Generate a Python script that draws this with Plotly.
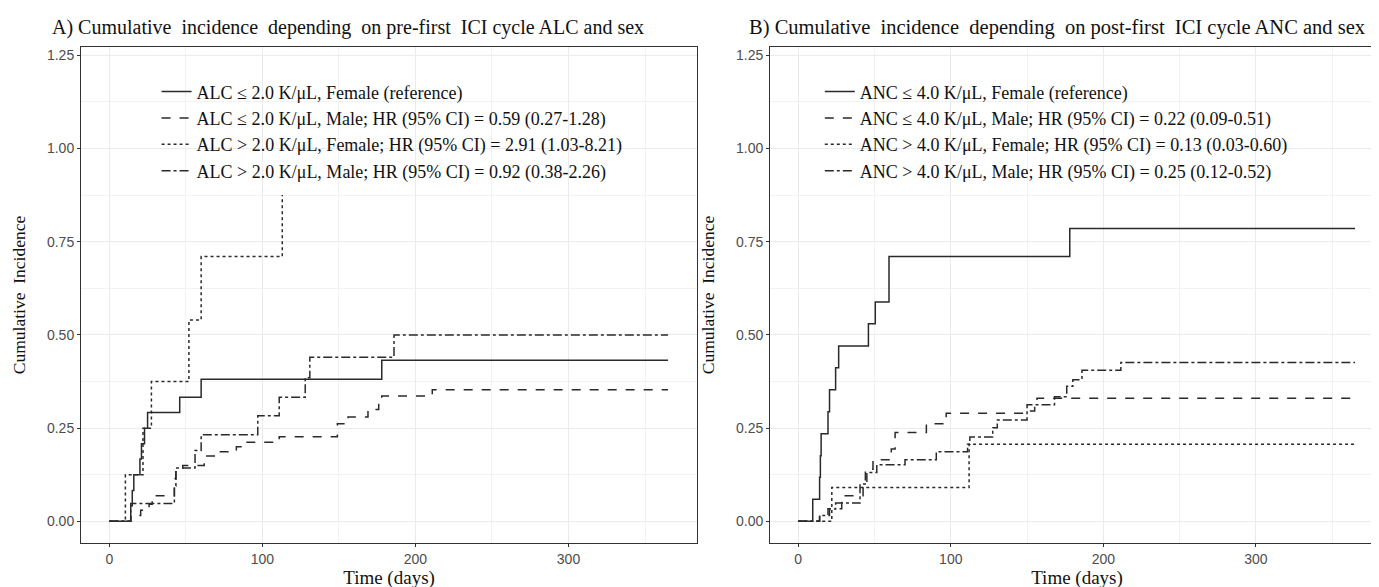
import plotly.graph_objects as go

# ---------------- Data: panel A (pre-first ICI cycle ALC and sex) ----------------
a_names = [
    "ALC ≤ 2.0 K/μL, Female (reference)",
    "ALC ≤ 2.0 K/μL, Male; HR (95% CI) = 0.59 (0.27-1.28)",
    "ALC > 2.0 K/μL, Female; HR (95% CI) = 2.91 (1.03-8.21)",
    "ALC > 2.0 K/μL, Male; HR (95% CI) = 0.92 (0.38-2.26)",
]
a_ref_t = [0, 14, 15, 16, 20, 21, 23, 25, 46, 60, 178, 365]
a_ref_v = [0, 0.042, 0.083, 0.125, 0.167, 0.208, 0.25, 0.292, 0.333, 0.381, 0.432, 0.432]
a_m_t = [0, 14, 20.5, 26, 28, 42.5, 43.5, 48, 62, 72, 83, 90, 111, 149, 156, 169, 176, 178, 211, 365]
a_m_v = [0, 0.016, 0.03, 0.046, 0.069, 0.115, 0.138, 0.15, 0.175, 0.187, 0.2, 0.212, 0.227,
         0.262, 0.28, 0.3, 0.318, 0.336, 0.353, 0.353]
a_hf_t = [0, 10.5, 22, 27.5, 52, 60, 113]
a_hf_v = [0, 0.125, 0.25, 0.375, 0.54, 0.71, 0.875]
a_hm_t = [0, 14, 42.5, 43.5, 56, 60, 97, 111, 128, 131, 186, 365]
a_hm_v = [0, 0.048, 0.095, 0.143, 0.19, 0.232, 0.283, 0.333, 0.385, 0.44, 0.5, 0.5]

# ---------------- Data: panel B (post-first ICI cycle ANC and sex) ----------------
b_names = [
    "ANC ≤ 4.0 K/μL, Female (reference)",
    "ANC ≤ 4.0 K/μL, Male; HR (95% CI) = 0.22 (0.09-0.51)",
    "ANC > 4.0 K/μL, Female; HR (95% CI) = 0.13 (0.03-0.60)",
    "ANC > 4.0 K/μL, Male; HR (95% CI) = 0.25 (0.12-0.52)",
]
b_ref_t = [0, 9.5, 14, 14.5, 15, 19.5, 20.5, 24.5, 26.5, 46, 50.5, 59.5, 178, 365]
b_ref_v = [0, 0.059, 0.118, 0.176, 0.235, 0.294, 0.353, 0.412, 0.47, 0.53, 0.588, 0.71, 0.785, 0.785]
b_m_t = [0, 14, 19.5, 28.5, 42.5, 44, 49, 61, 63.5, 84, 97, 150, 156.5, 365]
b_m_v = [0, 0.016, 0.034, 0.069, 0.1, 0.14, 0.165, 0.194, 0.238, 0.262, 0.29, 0.313, 0.33, 0.33]
b_hf_t = [0, 22, 112, 365]
b_hf_v = [0, 0.091, 0.207, 0.207]
b_hm_t = [0, 14, 20.5, 24.5, 40.5, 45, 51.5, 70, 90.5, 111, 112.5, 127.5, 130.5, 150, 155, 168,
          176, 180, 186, 211.5, 365]
b_hm_v = [0, 0.016, 0.033, 0.049, 0.1, 0.131, 0.152, 0.165, 0.187, 0.207, 0.226, 0.251, 0.272,
          0.296, 0.313, 0.334, 0.362, 0.38, 0.405, 0.426, 0.426]

titles = [
    "A) Cumulative\u00a0\u00a0incidence\u00a0\u00a0depending\u00a0\u00a0on pre-first\u00a0\u00a0ICI cycle ALC and sex",
    "B) Cumulative\u00a0\u00a0incidence\u00a0\u00a0depending\u00a0\u00a0on post-first\u00a0\u00a0ICI cycle ANC and sex",
]
x_ticks = [0, 100, 200, 300]
y_ticks = [0, 0.25, 0.5, 0.75, 1.0, 1.25]
y_ticklabels = ["0.00", "0.25", "0.50", "0.75", "1.00", "1.25"]

dashes = ["solid", "dash", "dot", "dashdot"]
LINE = "#2a2a2a"
SERIF = "Liberation Serif, DejaVu Serif, serif"
SANS = "Liberation Sans, Arial, sans-serif"

fig = go.Figure()
panelA = [(a_ref_t, a_ref_v), (a_m_t, a_m_v), (a_hf_t, a_hf_v), (a_hm_t, a_hm_v)]
panelB = [(b_ref_t, b_ref_v), (b_m_t, b_m_v), (b_hf_t, b_hf_v), (b_hm_t, b_hm_v)]

for i, (t, v) in enumerate(panelA):
    fig.add_trace(go.Scatter(x=t, y=v, mode="lines", line_shape="hv", name=a_names[i],
                             line=dict(color=LINE, width=1.5, dash=dashes[i]),
                             xaxis="x", yaxis="y", legend="legend", legendgroup=f"a{i}"))
for i, (t, v) in enumerate(panelB):
    fig.add_trace(go.Scatter(x=t, y=v, mode="lines", line_shape="hv", name=b_names[i],
                             line=dict(color=LINE, width=1.5, dash=dashes[i]),
                             xaxis="x2", yaxis="y2", legend="legend2", legendgroup=f"b{i}"))

# figure margins (pixels) and panel domains within the plotting area
ML, MR, MT, MB = 73, 3, 39, 52
xdomA = [0.0, 0.4728]
xdomB = [0.5288, 1.0]

def xaxis(domain, anchor):
    return dict(domain=domain, anchor=anchor, range=[-18.5, 384], tickvals=x_ticks,
                showgrid=True, gridcolor="#EBEBEB", gridwidth=1.1,
                minor=dict(showgrid=True, gridcolor="#F2F2F2", gridwidth=0.6, tickvals=[50, 150, 250, 350]),
                showline=True, linecolor="#333333", linewidth=1, mirror=True,
                ticks="outside", ticklen=3, tickcolor="#333333",
                tickfont=dict(family=SANS, size=14, color="#4D4D4D"),
                zeroline=False, automargin=False,
                title=dict(text="Time (days)", font=dict(family=SERIF, size=19, color="#111111"), standoff=4))

def yaxis(anchor):
    return dict(domain=[0, 1], anchor=anchor, range=[-0.058, 1.272], tickvals=y_ticks,
                ticktext=y_ticklabels,
                showgrid=True, gridcolor="#EBEBEB", gridwidth=1.1,
                minor=dict(showgrid=True, gridcolor="#F2F2F2", gridwidth=0.6,
                           tickvals=[0.125, 0.375, 0.625, 0.875, 1.125]),
                showline=True, linecolor="#333333", linewidth=1, mirror=True,
                ticks="outside", ticklen=3, tickcolor="#333333",
                tickfont=dict(family=SANS, size=14, color="#4D4D4D"),
                zeroline=False, automargin=False,
                title=dict(text="Cumulative\u00a0\u00a0Incidence", font=dict(family=SERIF, size=17.5, color="#111111"), standoff=16))

legend_style = dict(bgcolor="rgba(255,255,255,0)", borderwidth=0,
                    font=dict(family=SERIF, size=18, color="#111111"),
                    yanchor="top", xanchor="left", tracegroupgap=0, itemwidth=30)

fig.update_layout(
    width=1379, height=587,
    margin=dict(l=ML, r=MR, t=MT, b=MB, autoexpand=False),
    paper_bgcolor="white", plot_bgcolor="white",
    xaxis=xaxis(xdomA, "y"), yaxis=yaxis("x"),
    xaxis2=xaxis(xdomB, "y2"), yaxis2=yaxis("x2"),
    legend=dict(x=0.058, y=0.947, **legend_style),
    legend2=dict(x=0.567, y=0.947, **legend_style),
    showlegend=True,
    annotations=[
        dict(text=titles[0], x=0.205, y=1.04, xref="paper", yref="paper", showarrow=False,
             font=dict(family=SERIF, size=20, color="#111111"), xanchor="center", yanchor="middle"),
        dict(text=titles[1], x=0.749, y=1.04, xref="paper", yref="paper", showarrow=False,
             font=dict(family=SERIF, size=20.5, color="#111111"), xanchor="center", yanchor="middle"),
    ],
)

fig.write_html("out.html")
